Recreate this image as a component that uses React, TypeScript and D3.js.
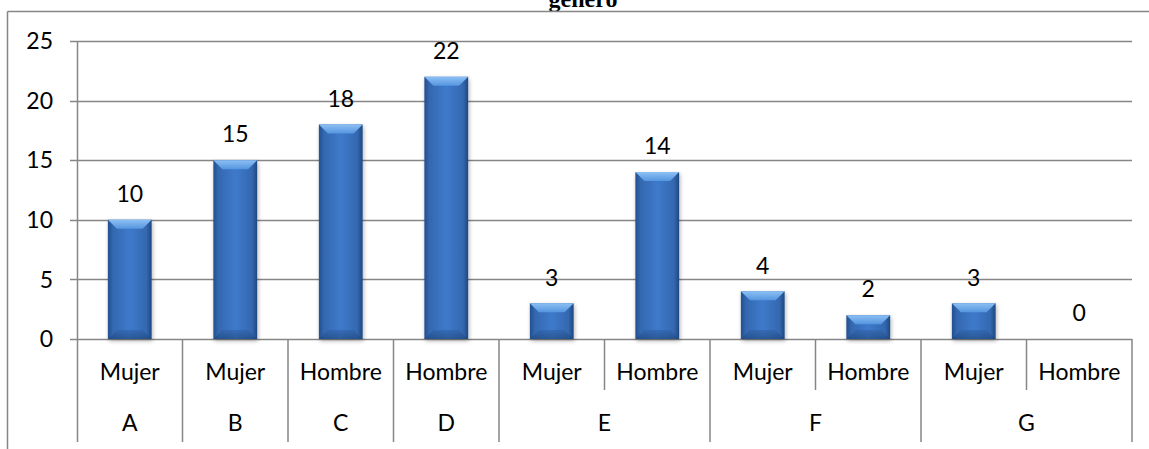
import React from "react";
import * as d3 from "d3";

const slotLabels = ["Mujer", "Mujer", "Hombre", "Hombre", "Mujer", "Hombre", "Mujer", "Hombre", "Mujer", "Hombre"];
const slotGroups = ["A", "B", "C", "D", "E", "E", "F", "F", "G", "G"];
const values = [10, 15, 18, 22, 3, 14, 4, 2, 3, 0];
const yTicks = [0, 5, 10, 15, 20, 25];
const titleText = "género";

const W = 1149;
const H = 449;
const FONT = "Lato, 'Open Sans', sans-serif";
const FS = 23;
const GRID = "#868686";

export default function App() {
  const left = 77;
  const right = 1132;
  const top = 41;
  const bottom = 339;
  const row1 = 390;
  const row2 = 442;

  const idx = values.map((_, i) => i);
  const x = d3.scaleBand<number>().domain(idx).range([left, right]).paddingInner(0).paddingOuter(0);
  const y = d3.scaleLinear().domain([0, 25]).range([bottom, top]);
  const bw = x.bandwidth() * 0.415;

  const groups: { name: string; start: number; end: number }[] = [];
  slotGroups.forEach((g, i) => {
    const last = groups[groups.length - 1];
    if (last && last.name === g) last.end = i;
    else groups.push({ name: g, start: i, end: i });
  });

  return (
    <svg width={W} height={H} style={{ position: "absolute", left: 0, top: 0 }}>
      <defs>
        <linearGradient id="barBody" x1="0" y1="0" x2="1" y2="0">
          <stop offset="0%" stopColor="#23508f" />
          <stop offset="12%" stopColor="#3468b0" />
          <stop offset="50%" stopColor="#3e7acb" />
          <stop offset="88%" stopColor="#3468b0" />
          <stop offset="100%" stopColor="#1f4880" />
        </linearGradient>
        <linearGradient id="barTop" x1="0" y1="0" x2="0" y2="1">
          <stop offset="0%" stopColor="#8cc0f4" />
          <stop offset="100%" stopColor="#5595df" />
        </linearGradient>
        <linearGradient id="barBottom" x1="0" y1="0" x2="0" y2="1">
          <stop offset="0%" stopColor="#2f62a8" />
          <stop offset="100%" stopColor="#1d4479" />
        </linearGradient>
        <filter id="shadow" x="-20%" y="-20%" width="140%" height="140%">
          <feGaussianBlur in="SourceAlpha" stdDeviation="2" />
          <feOffset dx="1" dy="2" result="ob" />
          <feComponentTransfer>
            <feFuncA type="linear" slope="0.3" />
          </feComponentTransfer>
          <feMerge>
            <feMergeNode />
            <feMergeNode in="SourceGraphic" />
          </feMerge>
        </filter>
      </defs>
      <rect x={0} y={0} width={W} height={H} fill="#ffffff" />
      <text x={583} y={7} textAnchor="middle" fontFamily="'Liberation Serif', 'Times New Roman', serif" fontWeight="bold" fontSize={24} fill="#000">
        {titleText}
      </text>
      <line x1={7.5} y1={11.5} x2={W} y2={11.5} stroke={GRID} strokeWidth={1.5} />
      <line x1={7.5} y1={11.5} x2={7.5} y2={H} stroke={GRID} strokeWidth={1.5} />

      {yTicks.map((t) => (
        <g key={t}>
          <line x1={70} x2={right} y1={Math.round(y(t)) + 0.5} y2={Math.round(y(t)) + 0.5} stroke={GRID} strokeWidth={1.5} />
          <text x={53} y={y(t)} dy="0.36em" textAnchor="end" fontFamily={FONT} fontSize={FS} fill="#000">
            {t}
          </text>
        </g>
      ))}
      <line x1={left + 0.5} x2={left + 0.5} y1={top} y2={row2} stroke={GRID} strokeWidth={1.5} />

      {idx.map((i) => {
        const xe = (x(i) as number) + x.bandwidth();
        const isGroupEnd = i === values.length - 1 || slotGroups[i] !== slotGroups[i + 1];
        return (
          <line key={"s" + i} x1={xe} x2={xe} y1={bottom} y2={isGroupEnd ? row2 : row1} stroke={GRID} strokeWidth={1.5} />
        );
      })}

      {values.map((v, i) => {
        const cx = (x(i) as number) + x.bandwidth() / 2;
        const x0 = cx - bw / 2;
        const x1 = cx + bw / 2;
        const yt = y(v);
        const h = bottom - yt;
        const b = Math.min(9, h / 2);
        return (
          <g key={"b" + i}>
            {h > 0 && (
              <g filter="url(#shadow)">
                <rect x={x0} y={yt} width={bw} height={h} fill="url(#barBody)" />
                <polygon points={`${x0},${yt} ${x1},${yt} ${x1 - b},${yt + b} ${x0 + b},${yt + b}`} fill="url(#barTop)" />
                <polygon points={`${x0},${bottom} ${x1},${bottom} ${x1 - b},${bottom - b} ${x0 + b},${bottom - b}`} fill="url(#barBottom)" opacity={0.6} />
              </g>
            )}
            <text x={cx} y={yt - 26} dy="0.36em" textAnchor="middle" fontFamily={FONT} fontSize={FS} fill="#000">
              {v}
            </text>
            <text x={cx} y={372} dy="0.36em" textAnchor="middle" fontFamily={FONT} fontSize={FS} fill="#000">
              {slotLabels[i]}
            </text>
          </g>
        );
      })}

      {groups.map((g) => {
        const xs = x(g.start) as number;
        const xe = (x(g.end) as number) + x.bandwidth();
        return (
          <text key={g.name} x={(xs + xe) / 2} y={423} dy="0.36em" textAnchor="middle" fontFamily={FONT} fontSize={FS} fill="#000">
            {g.name}
          </text>
        );
      })}
    </svg>
  );
}
